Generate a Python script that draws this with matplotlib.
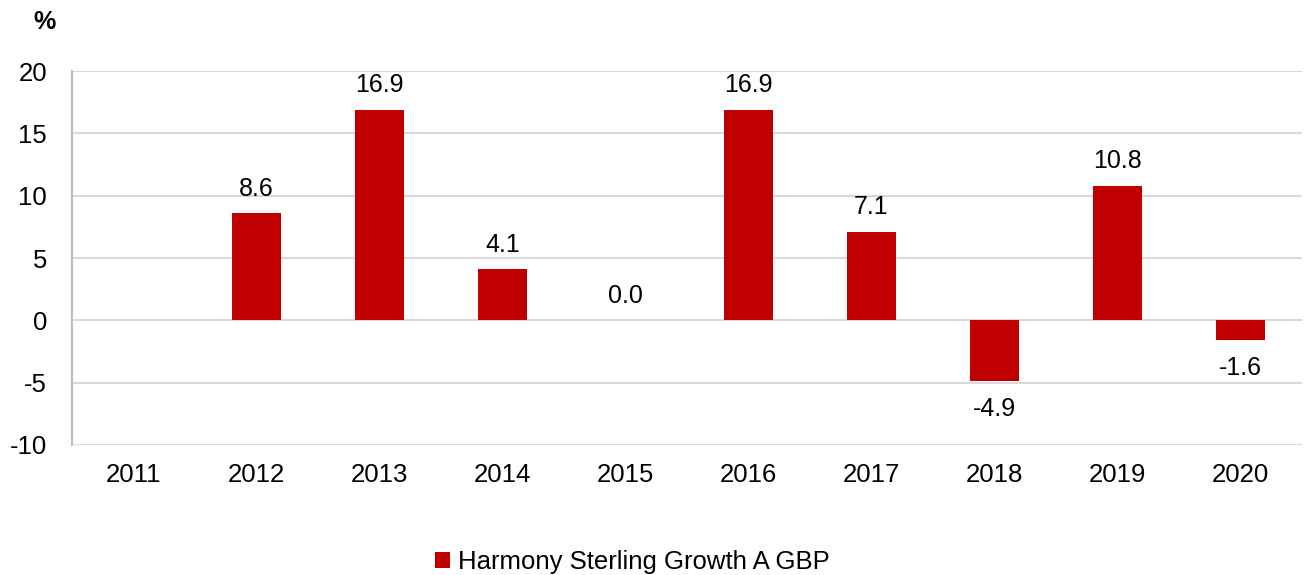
import matplotlib.pyplot as plt
import numpy as np

# Datos del gráfico
years = ['2011', '2012', '2013', '2014', '2015', '2016', '2017', '2018', '2019', '2020']
values = [np.nan, 8.6, 16.9, 4.1, 0.0, 16.9, 7.1, -4.9, 10.8, -1.6]
serie = 'Harmony Sterling Growth A GBP'

bar_color = '#C00000'
grid_color = '#D9D9D9'

plt.rcParams['font.family'] = ['Liberation Sans', 'DejaVu Sans']
plt.rcParams['axes.unicode_minus'] = False

fig = plt.figure(figsize=(13.06, 5.75), dpi=100)
ax = fig.add_axes([0.0551, 0.2261, 0.9419, 0.6504])

x = np.arange(len(years))
ax.bar(x, values, width=0.4, color=bar_color, label=serie, zorder=3)

ax.set_xlim(-0.5, len(years) - 0.5)
ax.set_ylim(-10, 20)
ax.set_yticks(np.arange(-10, 21, 5))
ax.set_xticks(x)
ax.set_xticklabels(years)
ax.yaxis.grid(True, color=grid_color, linewidth=1.5, zorder=0)
ax.tick_params(axis='both', length=0, labelsize=18.5)
ax.tick_params(axis='x', pad=13)
ax.tick_params(axis='y', pad=18)
for s in ['top', 'right', 'bottom']:
    ax.spines[s].set_visible(False)
ax.spines['left'].set_color('#BFBFBF')
ax.spines['left'].set_linewidth(1.5)

# Etiquetas de datos
for xi, v in zip(x, values):
    if np.isnan(v):
        continue
    if v >= 0:
        ax.annotate(f'{v:.1f}', (xi, v), xytext=(0, 9), textcoords='offset points',
                    ha='center', va='bottom', fontsize=18)
    else:
        ax.annotate(f'{v:.1f}', (xi, v), xytext=(0, -11), textcoords='offset points',
                    ha='center', va='top', fontsize=18)

fig.text(0.034, 0.962, '%', fontsize=18, fontweight='bold', ha='center', va='center')

fig.legend(loc='center', bbox_to_anchor=(0.484, 0.022), frameon=False, fontsize=18.5,
           handlelength=0.6, handleheight=0.6, handletextpad=0.3)

fig.savefig('out.png', dpi=100)
